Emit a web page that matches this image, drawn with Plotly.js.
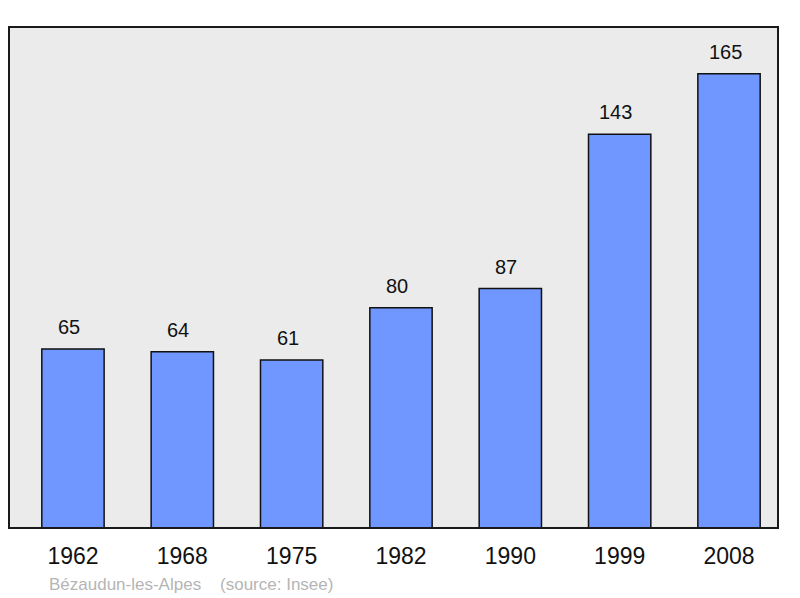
<!DOCTYPE html>
<html>
<head>
<meta charset="utf-8">
<script src="https://cdn.plot.ly/plotly-3.0.1.min.js"></script>
<style>html,body{margin:0;padding:0;background:#fff;}#chart{width:800px;height:598px;}</style>
</head>
<body>
<div id="chart"></div>
<script>
const years = ["1962", "1968", "1975", "1982", "1990", "1999", "2008"];
const population = [65, 64, 61, 80, 87, 143, 165];
const commune = "Bézaudun-les-Alpes";
const source = "(source: Insee)";

const trace = {
  type: "bar",
  x: years,
  y: population,
  textposition: "none",
  marker: {color: "#7097ff", line: {color: "#111", width: 1.5}},
  width: 0.57,
  hoverinfo: "none"
};

const annotations = years.map((yr, i) => ({
  x: i, y: population[i], xref: "x", yref: "y",
  text: String(population[i]), showarrow: false,
  yanchor: "bottom", yshift: 9, xshift: -4,
  font: {family: "Liberation Sans, Arial, sans-serif", size: 20, color: "#111"}
}));
annotations.push({
  xref: "paper", yref: "paper", x: 0.049, y: -0.112, xanchor: "left", yanchor: "middle",
  text: commune + "&nbsp;&nbsp;&nbsp;&nbsp;" + source, showarrow: false,
  font: {family: "Liberation Sans, Arial, sans-serif", size: 17, color: "#b5b5b5"}
});

const layout = {
  width: 800, height: 598,
  margin: {l: 9, r: 22, t: 27, b: 70},
  paper_bgcolor: "#ffffff",
  plot_bgcolor: "#ebebeb",
  showlegend: false,
  xaxis: {
    type: "category", range: [-0.585, 6.448], autorange: false,
    showgrid: false, zeroline: false, showline: false,
    ticks: "", tickfont: {family: "Liberation Sans, Arial, sans-serif", size: 23, color: "#111"},
    ticklabelstandoff: 12
  },
  yaxis: {range: [0, 182], autorange: false, showgrid: false, zeroline: false, showline: false, showticklabels: false, ticks: ""},
  shapes: [{type: "rect", xref: "paper", yref: "paper", x0: 0, x1: 1, y0: 0, y1: 1,
    line: {color: "#1a1a1a", width: 2}, layer: "above"}],
  annotations: annotations
};

Plotly.newPlot("chart", [trace], layout, {displayModeBar: false, staticPlot: true});
</script>
</body>
</html>
